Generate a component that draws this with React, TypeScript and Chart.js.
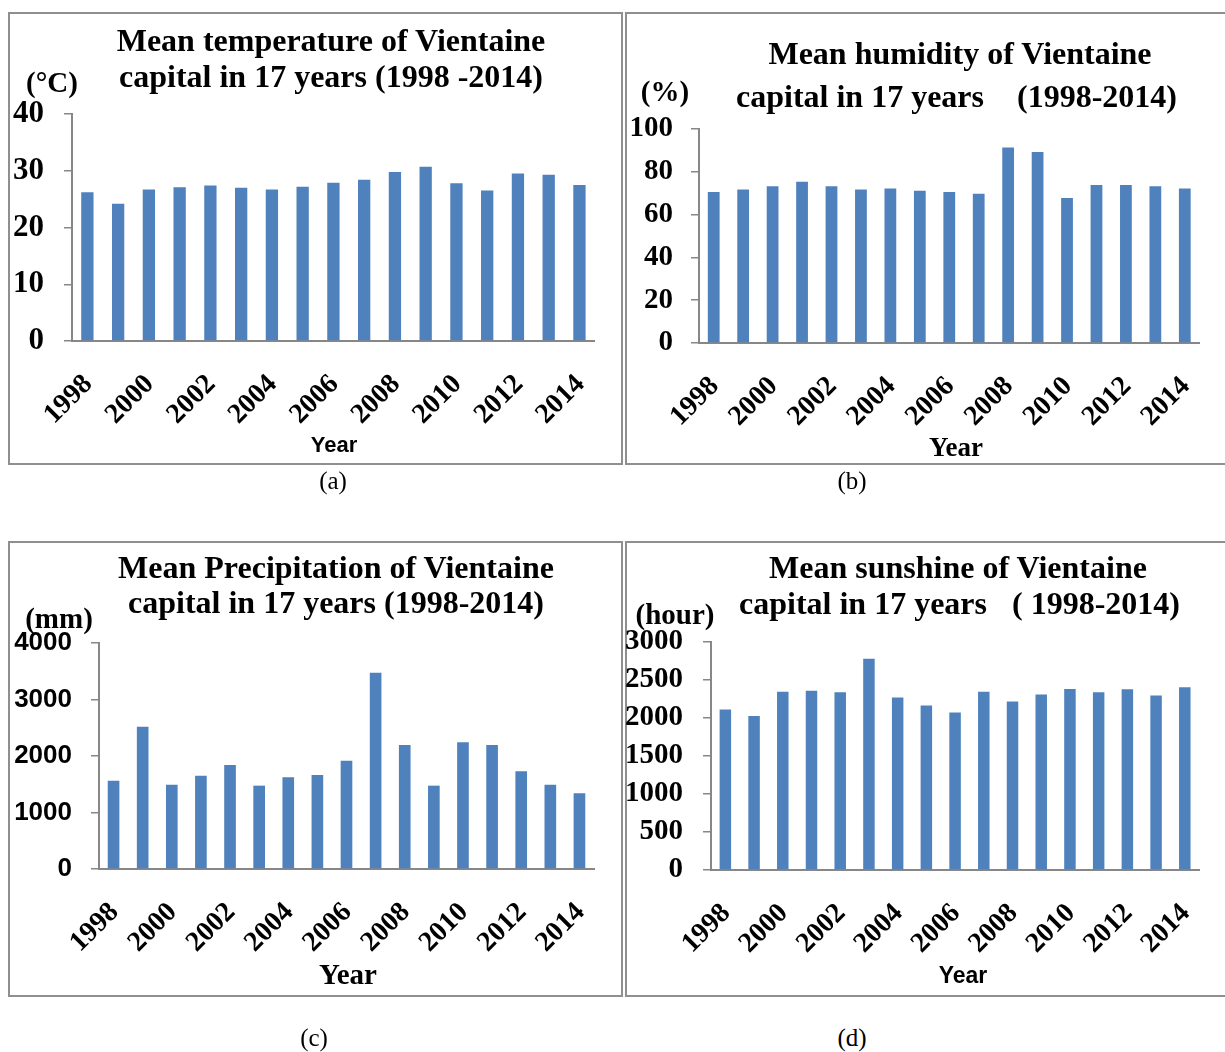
import React, { useEffect, useRef } from "react";
import { Chart, registerables } from "chart.js";

Chart.register(...registerables);

const years = ["1998", "1999", "2000", "2001", "2002", "2003", "2004", "2005", "2006", "2007", "2008", "2009", "2010", "2011", "2012", "2013", "2014"];
const yearTickLabels = ["1998", "2000", "2002", "2004", "2006", "2008", "2010", "2012", "2014"];

const temperature = [26.2, 24.2, 26.7, 27.1, 27.4, 27.0, 26.7, 27.2, 27.9, 28.4, 29.8, 30.7, 27.8, 26.5, 29.5, 29.3, 27.5];
const humidity = [70.6, 71.7, 73.3, 75.3, 73.3, 71.7, 72.2, 71.1, 70.6, 69.7, 91.4, 89.2, 67.7, 73.8, 73.8, 73.3, 72.2];
const precipitation = [1563, 2519, 1493, 1652, 1841, 1475, 1622, 1664, 1917, 3475, 2195, 1475, 2242, 2195, 1729, 1493, 1339];
const sunshine = [2112, 2025, 2344, 2357, 2339, 2781, 2269, 2164, 2073, 2344, 2217, 2309, 2383, 2339, 2379, 2296, 2405];

const temperatureTicks = [0, 10, 20, 30, 40];
const humidityTicks = [0, 20, 40, 60, 80, 100];
const precipitationTicks = [0, 1000, 2000, 3000, 4000];
const sunshineTicks = [0, 500, 1000, 1500, 2000, 2500, 3000];

const SERIF = "'Liberation Serif', 'Times New Roman', serif";
const SANS = "'Liberation Sans', Arial, sans-serif";
const GRAY = "#878787";
const BAR = "#4F81BD";

type Rect = { l: number; t: number; r: number; b: number };
type TextItem = { text: string; x: number; y: number; font: string; anchor?: "center" | "left" };

type PanelProps = {
  frame: Rect;
  plot: Rect;
  values: number[];
  ticks: number[];
  yFont: { family: string; size: number; weight: string };
  yPad: number;
  texts: TextItem[];
};

function BarPanel({ frame, plot, values, ticks, yFont, yPad, texts }: PanelProps) {
  const ref = useRef<HTMLCanvasElement | null>(null);
  const w = frame.r - frame.l;
  const h = frame.b - frame.t;
  useEffect(() => {
    if (!ref.current) return;
    const chart = new Chart(ref.current, {
      type: "bar",
      data: {
        labels: years,
        datasets: [
          {
            data: values,
            backgroundColor: BAR,
            categoryPercentage: 1,
            barPercentage: 0.4,
          },
        ],
      },
      options: {
        animation: false,
        responsive: false,
        maintainAspectRatio: false,
        events: [],
        plugins: {
          legend: { display: false },
          title: { display: false },
          tooltip: { enabled: false },
        },
        layout: {
          padding: { left: 0, top: plot.t - frame.t, right: frame.r - plot.r, bottom: 0 },
        },
        scales: {
          x: {
            offset: true,
            grid: { display: false },
            border: { display: true, color: GRAY, width: 2 },
            ticks: {
              autoSkip: false,
              minRotation: 45,
              maxRotation: 45,
              padding: 19,
              labelOffset: 1,
              color: "#000",
              font: { family: SERIF, size: 28, weight: "bold" },
              callback: (_v: any, i: number) => (yearTickLabels.includes(years[i]) ? years[i] : ""),
            },
            afterFit: (s: any) => {
              s.height = frame.b - plot.b;
            },
          },
          y: {
            min: ticks[0],
            max: ticks[ticks.length - 1],
            afterBuildTicks: (s: any) => {
              s.ticks = ticks.map((v) => ({ value: v }));
            },
            grid: {
              display: true,
              drawOnChartArea: false,
              drawTicks: true,
              tickLength: 8,
              color: GRAY,
              lineWidth: 1.5,
            },
            border: { display: true, color: GRAY, width: 2 },
            ticks: {
              padding: yPad,
              color: "#000",
              font: yFont as any,
              callback: (v: any) => String(v),
            },
            afterFit: (s: any) => {
              s.width = plot.l - frame.l;
            },
          },
        },
      } as any,
    });
    return () => chart.destroy();
  }, []);

  return (
    <>
      <div
        style={{
          position: "absolute",
          left: frame.l,
          top: frame.t,
          width: w,
          height: h,
          border: "2px solid #8f8f8f",
          boxSizing: "border-box",
        }}
      />
      <canvas
        ref={ref}
        width={w}
        height={h}
        style={{ position: "absolute", left: frame.l, top: frame.t, width: w, height: h }}
      />
      {texts.map((t, i) => (
        <div
          key={i}
          style={{
            position: "absolute",
            left: t.x,
            top: t.y,
            transform: t.anchor === "left" ? "translate(0,-50%)" : "translate(-50%,-50%)",
            font: t.font,
            lineHeight: 1,
            whiteSpace: "pre",
            color: "#000",
          }}
        >
          {t.text}
        </div>
      ))}
    </>
  );
}

const titleFont = `bold 32px ${SERIF}`;
const captionFont = `25px ${SERIF}`;

export default function App() {
  return (
    <div
      style={{
        position: "absolute",
        left: 0,
        top: 0,
        width: 1225,
        height: 1052,
        overflow: "hidden",
        background: "#fff",
      }}
    >
      <BarPanel
        frame={{ l: 8, t: 12, r: 623, b: 465 }}
        plot={{ l: 72, t: 114, r: 596, b: 341 }}
        values={temperature}
        ticks={temperatureTicks}
        yFont={{ family: SERIF, size: 31, weight: "bold" }}
        yPad={20}
        texts={[
          { text: "Mean temperature of Vientaine", x: 331, y: 40, font: titleFont },
          { text: "capital in 17 years (1998 -2014)", x: 331, y: 76, font: titleFont },
          { text: "(°C)", x: 52, y: 82, font: `bold 29px ${SERIF}` },
          { text: "Year", x: 334, y: 445, font: `bold 22px ${SANS}` },
        ]}
      />
      <BarPanel
        frame={{ l: 625, t: 12, r: 1228, b: 465 }}
        plot={{ l: 699, t: 129, r: 1213, b: 343 }}
        values={humidity}
        ticks={humidityTicks}
        yFont={{ family: SERIF, size: 29, weight: "bold" }}
        yPad={18}
        texts={[
          { text: "Mean humidity of Vientaine", x: 960, y: 53, font: titleFont },
          { text: "capital in 17 years", x: 736, y: 96, font: titleFont, anchor: "left" },
          { text: "(1998-2014)", x: 1017, y: 96, font: titleFont, anchor: "left" },
          { text: "(%)", x: 665, y: 91, font: `bold 29px ${SERIF}` },
          { text: "Year", x: 956, y: 447, font: `bold 27px ${SERIF}` },
        ]}
      />
      <BarPanel
        frame={{ l: 8, t: 541, r: 623, b: 997 }}
        plot={{ l: 99, t: 643, r: 596, b: 869 }}
        values={precipitation}
        ticks={precipitationTicks}
        yFont={{ family: SANS, size: 26, weight: "bold" }}
        yPad={19}
        texts={[
          { text: "Mean Precipitation of Vientaine", x: 336, y: 567, font: titleFont },
          { text: "capital in 17 years (1998-2014)", x: 336, y: 602, font: titleFont },
          { text: "(mm)", x: 59, y: 618, font: `bold 29px ${SERIF}` },
          { text: "Year", x: 348, y: 974, font: `bold 29px ${SERIF}` },
        ]}
      />
      <BarPanel
        frame={{ l: 625, t: 541, r: 1228, b: 997 }}
        plot={{ l: 711, t: 642, r: 1213, b: 870 }}
        values={sunshine}
        ticks={sunshineTicks}
        yFont={{ family: SERIF, size: 29, weight: "bold" }}
        yPad={20}
        texts={[
          { text: "Mean sunshine of Vientaine", x: 958, y: 567, font: titleFont },
          { text: "capital in 17 years", x: 739, y: 603, font: titleFont, anchor: "left" },
          { text: "( 1998-2014)", x: 1012, y: 603, font: titleFont, anchor: "left" },
          { text: "(hour)", x: 675, y: 614, font: `bold 29px ${SERIF}` },
          { text: "Year", x: 963, y: 975, font: `bold 23px ${SANS}` },
        ]}
      />
      <div style={{ position: "absolute", left: 333, top: 480, transform: "translate(-50%,-50%)", font: captionFont, lineHeight: 1 }}>(a)</div>
      <div style={{ position: "absolute", left: 852, top: 480, transform: "translate(-50%,-50%)", font: captionFont, lineHeight: 1 }}>(b)</div>
      <div style={{ position: "absolute", left: 314, top: 1037, transform: "translate(-50%,-50%)", font: captionFont, lineHeight: 1 }}>(c)</div>
      <div style={{ position: "absolute", left: 852, top: 1037, transform: "translate(-50%,-50%)", font: captionFont, lineHeight: 1 }}>(d)</div>
    </div>
  );
}
